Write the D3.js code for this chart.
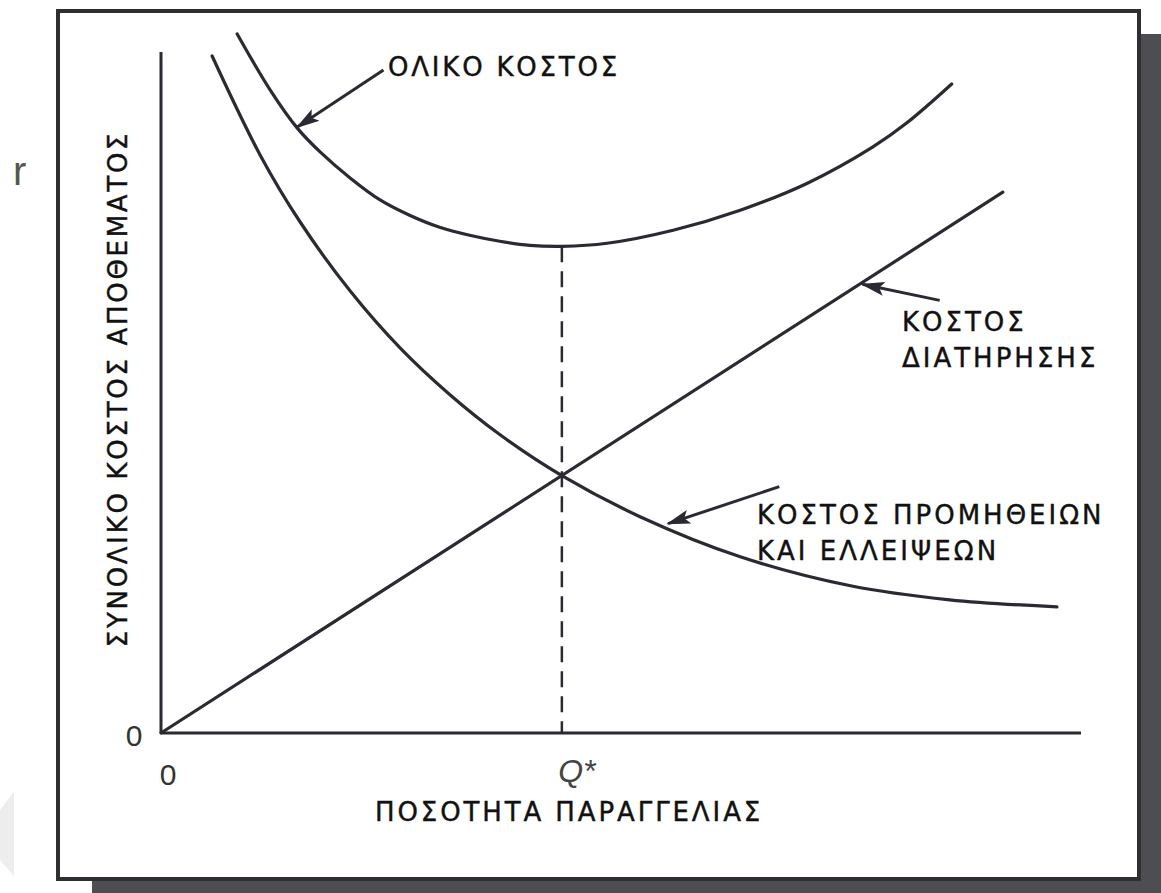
<!DOCTYPE html>
<html>
<head>
<meta charset="utf-8">
<script src="https://cdn.jsdelivr.net/npm/d3@7"></script>
<style>
  body { margin: 0; background: #fff; }
  text { font-family: "DejaVu Sans", Verdana, sans-serif; fill: #111; }
</style>
</head>
<body>
<svg id="vis" width="1161" height="893"></svg>
<script>
// order quantity (x) and cost (y)
var holdingQ = [0, 84];
var holdingCost = [0, 54];

var orderingQ = [5.1, 9.9, 13.9, 18.9, 23.9, 28.8, 33.8, 40, 47.8, 57.8, 68.8, 78.7, 89.4];
var orderingCost = [67.6, 57.7, 51.0, 44.1, 38.4, 33.8, 29.8, 25.7, 21.6, 17.6, 14.7, 13.3, 12.6];

var totalQ = [7.6, 10.9, 13.6, 15.9, 18.9, 21.9, 24.8, 27.8, 30.8, 33.8, 36.8, 40, 44.5, 51.1, 57.8, 64.5, 71.0, 74.4, 78.9];
var totalCost = [69.8, 64.2, 60.4, 58.0, 55.4, 53.2, 51.7, 50.5, 49.7, 49.1, 48.7, 48.6, 48.9, 50.2, 52.2, 54.9, 58.5, 60.9, 64.8];

var qStar = 40;
var xMax = 91.8, yMax = 68;

var yTitle = "ΣΥΝΟΛΙΚΟ ΚΟΣΤΟΣ ΑΠΟΘΕΜΑΤΟΣ";
var xTitle = "ΠΟΣΟΤΗΤΑ ΠΑΡΑΓΓΕΛΙΑΣ";
var totalLabel = ["ΟΛΙΚΟ ΚΟΣΤΟΣ"];
var holdingLabel = ["ΚΟΣΤΟΣ", "ΔΙΑΤΗΡΗΣΗΣ"];
var orderingLabel = ["ΚΟΣΤΟΣ ΠΡΟΜΗΘΕΙΩΝ", "ΚΑΙ ΕΛΛΕΙΨΕΩΝ"];

// arrows: [tailQ, tailCost, headQ, headCost]
var arrows = [
  [22.2, 66.2, 13.6, 60.5],
  [77.7, 43.2, 70.0, 44.8],
  [61.7, 24.6, 50.6, 20.9]
];

var svg = d3.select("#vis");
var lineColor = "#2b2a33";

var x = d3.scaleLinear().domain([0, 92]).range([161, 1083]);
var y = d3.scaleLinear().domain([0, yMax]).range([733, 52]);

// page shadow + frame
svg.append("rect").attr("x", 1140).attr("y", 34).attr("width", 21).attr("height", 859).attr("fill", "#4e4e52");
svg.append("rect").attr("x", 92).attr("y", 880).attr("width", 1069).attr("height", 13).attr("fill", "#4e4e52");
svg.append("rect").attr("x", 58).attr("y", 11).attr("width", 1081).attr("height", 868)
  .attr("fill", "#fff").attr("stroke", "#2f2f33").attr("stroke-width", 4);

// faint leftovers of the scanned page
svg.append("text").attr("x", 13).attr("y", 185).style("font-family", "Liberation Sans")
  .style("font-size", "40px").style("fill", "#555").text("r");
svg.append("path").attr("d", "M0,810 L14,792 L14,876 L0,860 Z").attr("fill", "#ededed");

// arrow head marker
svg.append("defs").append("marker")
  .attr("id", "head")
  .attr("markerUnits", "userSpaceOnUse")
  .attr("viewBox", "0 0 24 16")
  .attr("refX", 22).attr("refY", 8)
  .attr("markerWidth", 24).attr("markerHeight", 16)
  .attr("orient", "auto")
  .append("path").attr("d", "M0,1 L24,8 L0,15 L5,8 Z").attr("fill", lineColor);

// axes (plain lines, no ticks)
svg.append("line").attr("x1", x(0)).attr("x2", x(0)).attr("y1", y(0)).attr("y2", y(yMax))
  .attr("stroke", lineColor).attr("stroke-width", 3);
svg.append("line").attr("x1", x(0)).attr("x2", x(xMax)).attr("y1", y(0)).attr("y2", y(0))
  .attr("stroke", lineColor).attr("stroke-width", 3);

var line = d3.line()
  .x(function(d) { return x(d[0]); })
  .y(function(d) { return y(d[1]); })
  .curve(d3.curveCatmullRom.alpha(0.5));

var series = [
  d3.zip(holdingQ, holdingCost),
  d3.zip(orderingQ, orderingCost),
  d3.zip(totalQ, totalCost)
];

svg.append("g").selectAll("path")
  .data(series)
  .enter()
  .append("path")
    .attr("d", line)
    .attr("fill", "none")
    .attr("stroke", lineColor)
    .attr("stroke-width", 3.2)
    .attr("stroke-linecap", "round");

// Q* dashed drop line
var minTotal = d3.min(totalCost);
svg.append("line").attr("x1", x(qStar)).attr("x2", x(qStar))
  .attr("y1", y(minTotal)).attr("y2", y(0))
  .attr("stroke", lineColor).attr("stroke-width", 2.5)
  .attr("stroke-dasharray", "16,9");

// annotation arrows
svg.append("g").selectAll("line")
  .data(arrows)
  .enter()
  .append("line")
    .attr("x1", function(d) { return x(d[0]); })
    .attr("y1", function(d) { return y(d[1]); })
    .attr("x2", function(d) { return x(d[2]); })
    .attr("y2", function(d) { return y(d[3]); })
    .attr("stroke", lineColor)
    .attr("stroke-width", 3)
    .attr("marker-end", "url(#head)");

function label(lines, px, py, gap, spacing) {
  svg.append("g").selectAll("text")
    .data(lines)
    .enter()
    .append("text")
      .attr("x", px)
      .attr("y", function(d, i) { return py + i * gap; })
      .style("font-size", "26px")
      .style("letter-spacing", spacing + "px")
      .style("stroke", "#111").style("stroke-width", 0.4)
      .text(function(d) { return d; });
}

label(totalLabel, 388, 76, 0, 2.8);
label(holdingLabel, 902, 331, 36, 3);
label(orderingLabel, 757, 524, 36, 3);
label([xTitle], 375, 821, 0, 2.9);

svg.append("text")
  .attr("transform", "translate(127,389) rotate(-90)")
  .attr("text-anchor", "middle")
  .style("font-size", "26px")
  .style("letter-spacing", "2.7px")
  .style("stroke", "#111").style("stroke-width", 0.4)
  .text(yTitle);

// zero labels and Q*
svg.append("text").attr("x", 134).attr("y", 746).attr("text-anchor", "middle")
  .style("font-family", "Liberation Sans").style("font-size", "30px").style("fill", "#333").text("0");
svg.append("text").attr("x", x(0) + 7).attr("y", 785).attr("text-anchor", "middle")
  .style("font-family", "Liberation Sans").style("font-size", "30px").style("fill", "#333").text("0");
svg.append("text").attr("x", x(qStar) + 15).attr("y", 782).attr("text-anchor", "middle")
  .style("font-family", "Liberation Sans").style("font-style", "italic")
  .style("font-size", "32px").style("fill", "#444").text("Q*");
</script>
</body>
</html>
